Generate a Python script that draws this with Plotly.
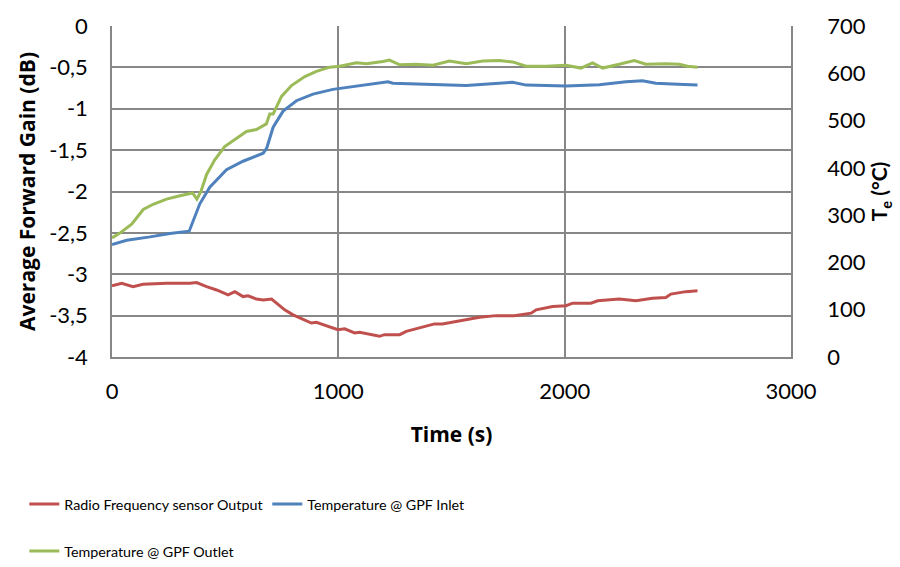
import plotly.graph_objects as go

# Radio frequency sensor output (average forward gain, dB) versus time (s)
rf_time = [0, 43, 93, 137, 241, 344, 374, 418, 462, 513, 543, 579, 601, 638, 668, 705, 727,
           763, 800, 844, 881, 903, 947, 998, 1028, 1072, 1094, 1124, 1182, 1204, 1271, 1300,
           1344, 1395, 1425, 1460, 1535, 1624, 1697, 1778, 1852, 1874, 1947, 2006, 2035, 2116,
           2146, 2241, 2315, 2388, 2447, 2469, 2535, 2587]
rf_gain = [-3.14, -3.11, -3.15, -3.12, -3.11, -3.11, -3.10, -3.15, -3.19, -3.25, -3.21, -3.27,
           -3.26, -3.30, -3.31, -3.30, -3.35, -3.43, -3.49, -3.54, -3.59, -3.58, -3.62, -3.67,
           -3.66, -3.71, -3.70, -3.72, -3.75, -3.73, -3.73, -3.69, -3.66, -3.62, -3.60, -3.60,
           -3.56, -3.52, -3.50, -3.50, -3.47, -3.43, -3.39, -3.38, -3.35, -3.35, -3.32, -3.30,
           -3.32, -3.29, -3.28, -3.24, -3.21, -3.20]

# GPF inlet temperature (°C)
inlet_time = [0, 65, 168, 256, 341, 374, 388, 418, 432, 506, 579, 668, 683, 712, 756, 815, 888,
              976, 1035, 1094, 1168, 1219, 1241, 1344, 1416, 1491, 1565, 1682, 1770, 1830, 2006,
              2153, 2271, 2344, 2403, 2500, 2587]
inlet_temp = [238, 247, 254, 261, 266, 304, 324, 348, 359, 396, 414, 431, 441, 486, 520, 542,
              556, 566, 570, 575, 580, 582, 579, 577, 575, 575, 574, 578, 581, 575, 573, 576,
              582, 584, 579, 577, 575]

# GPF outlet temperature (°C)
outlet_time = [0, 35, 87, 138, 182, 241, 300, 356, 375, 393, 418, 454, 498, 528, 565, 594, 638,
               682, 697, 712, 749, 793, 852, 903, 962, 1006, 1080, 1124, 1197, 1226, 1271, 1344,
               1418, 1491, 1565, 1638, 1712, 1770, 1830, 1918, 2006, 2072, 2123, 2168, 2241,
               2307, 2359, 2447, 2506, 2543, 2587]
outlet_temp = [252, 262, 281, 312, 323, 334, 341, 347, 334, 350, 386, 417, 445, 455, 469, 477,
               481, 493, 514, 514, 551, 574, 593, 604, 613, 615, 622, 620, 625, 628, 618, 619,
               617, 626, 620, 626, 627, 624, 615, 615, 617, 611, 622, 611, 619, 627, 619, 620,
               619, 615, 613]

gain_ticks = [0, -0.5, -1, -1.5, -2, -2.5, -3, -3.5, -4]
gain_labels = ["0", "-0,5", "-1", "-1,5", "-2", "-2,5", "-3", "-3,5", "-4"]
temp_ticks = [0, 100, 200, 300, 400, 500, 600, 700]
time_ticks = [0, 1000, 2000, 3000]

RED, BLUE, GREEN = "#C0504D", "#4F81BD", "#9BBB59"
GRID = "#878787"
TICK_FONT = dict(family="Lato, sans-serif", size=22, color="black")
TITLE_FONT = dict(family="Open Sans, sans-serif", size=21, color="black")
LEGEND_FONT = dict(family="Lato, sans-serif", size=14.3, color="black")

fig = go.Figure()
fig.add_trace(go.Scatter(x=rf_time, y=rf_gain, mode="lines", name="Radio Frequency sensor Output",
                         line=dict(color=RED, width=3), legend="legend"))
fig.add_trace(go.Scatter(x=inlet_time, y=inlet_temp, mode="lines", name="Temperature @ GPF Inlet",
                         line=dict(color=BLUE, width=3), yaxis="y2", legend="legend"))
fig.add_trace(go.Scatter(x=outlet_time, y=outlet_temp, mode="lines", name="Temperature @ GPF Outlet",
                         line=dict(color=GREEN, width=3), yaxis="y2", legend="legend2"))

legend_common = dict(orientation="h", xref="container", yref="container",
                     xanchor="left", yanchor="top", font=LEGEND_FONT,
                     itemwidth=30, tracegroupgap=0, traceorder="normal",
                     entrywidth=198, entrywidthmode="pixels", bgcolor="rgba(0,0,0,0)")

fig.update_layout(
    width=900, height=567,
    margin=dict(l=112, r=108, t=18, b=210),
    paper_bgcolor="white", plot_bgcolor="white",
    font=TICK_FONT,
    showlegend=True,
    legend=dict(x=0.027, y=0.139, **legend_common),
    legend2=dict(x=0.027, y=0.056, **legend_common),
    xaxis=dict(range=[0, 3000], tickvals=time_ticks, showgrid=True, gridcolor=GRID, gridwidth=1.5,
               showline=True, linecolor=GRID, linewidth=1.5, zeroline=False, ticks="",
               ticklabelstandoff=14, tickfont=TICK_FONT,
               title=dict(text="<b>Time (s)</b>", font=TITLE_FONT, standoff=24)),
    yaxis=dict(range=[-4, 0], tickvals=gain_ticks, ticktext=gain_labels, showgrid=True,
               gridcolor=GRID, gridwidth=1.5, showline=True, linecolor=GRID, linewidth=1.5,
               zeroline=False, ticks="", ticklabelstandoff=18, tickfont=TICK_FONT,
               title=dict(text="<b>Average Forward Gain (dB)</b>", font=TITLE_FONT, standoff=8)),
    yaxis2=dict(range=[0, 700], tickvals=temp_ticks, overlaying="y", side="right", showgrid=False,
                showline=True, linecolor=GRID, linewidth=1.5, zeroline=False, ticks="",
                ticklabelstandoff=30, tickfont=TICK_FONT,
                title=dict(text="<b>T<sub>e</sub> (°C)</b>",
                           font=dict(family="Lato, sans-serif", size=21, color="black"),
                           standoff=8)),
)

fig.write_html("out.html")
